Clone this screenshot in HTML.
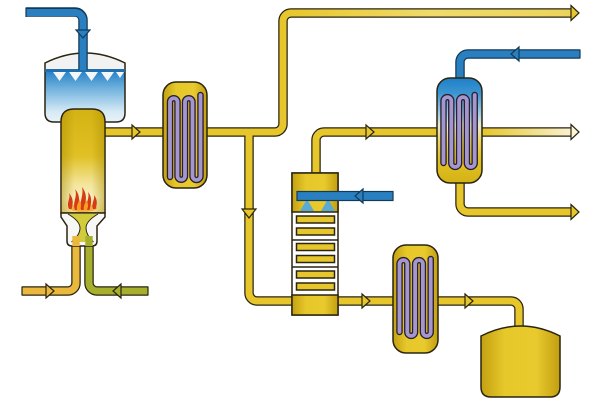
<!DOCTYPE html>
<html><head><meta charset="utf-8"><style>
html,body{margin:0;padding:0;background:#fff;}
svg{display:block;}
.po{fill:none;stroke:#2a2410;stroke-width:9.5;}
.pb{fill:none;stroke:#123a5a;stroke-width:9.5;}
.ol{stroke:#2a2410;stroke-width:1.5;}
.ar{stroke:#2a2410;stroke-width:1.2;stroke-linejoin:miter;}
</style></head><body>
<svg width="600" height="400" viewBox="0 0 600 400" xmlns="http://www.w3.org/2000/svg">
<defs>
  <linearGradient id="vy" x1="0" y1="0" x2="1" y2="0">
    <stop offset="0" stop-color="#c4a012"/><stop offset="0.3" stop-color="#e6c82a"/>
    <stop offset="0.7" stop-color="#e8ca2e"/><stop offset="1" stop-color="#c29e10"/>
  </linearGradient>
  <linearGradient id="edge" x1="0" y1="0" x2="1" y2="0">
    <stop offset="0" stop-color="#a88a00" stop-opacity="0.45"/><stop offset="0.3" stop-color="#a88a00" stop-opacity="0"/>
    <stop offset="0.7" stop-color="#a88a00" stop-opacity="0"/><stop offset="1" stop-color="#a88a00" stop-opacity="0.45"/>
  </linearGradient>
  <linearGradient id="quench" gradientUnits="userSpaceOnUse" x1="0" y1="53" x2="0" y2="122">
    <stop offset="0" stop-color="#f2f2f2"/><stop offset="0.246" stop-color="#f2f2f2"/>
    <stop offset="0.275" stop-color="#2a84ca"/><stop offset="0.55" stop-color="#7ab8e0"/>
    <stop offset="0.85" stop-color="#d6eaf5"/><stop offset="1" stop-color="#e8f3f8"/>
  </linearGradient>
  <linearGradient id="reac" gradientUnits="userSpaceOnUse" x1="0" y1="109" x2="0" y2="213">
    <stop offset="0" stop-color="#d4b214"/><stop offset="0.45" stop-color="#e0c024"/>
    <stop offset="0.72" stop-color="#f3e59a"/><stop offset="0.85" stop-color="#f8efbc"/>
    <stop offset="1" stop-color="#f2e296"/>
  </linearGradient>
  <linearGradient id="cond" gradientUnits="userSpaceOnUse" x1="0" y1="78" x2="0" y2="183">
    <stop offset="0" stop-color="#1f7fc6"/><stop offset="0.15" stop-color="#3d96d2"/>
    <stop offset="0.35" stop-color="#a8d0e6"/><stop offset="0.45" stop-color="#e8ecd0"/>
    <stop offset="0.6" stop-color="#ecd860"/><stop offset="0.75" stop-color="#e2c424"/>
    <stop offset="1" stop-color="#d4b216"/>
  </linearGradient>
  <linearGradient id="topp" gradientUnits="userSpaceOnUse" x1="280" y1="0" x2="580" y2="0">
    <stop offset="0" stop-color="#e6c62a"/><stop offset="0.5" stop-color="#f0da6a"/>
    <stop offset="1" stop-color="#ecd45a"/>
  </linearGradient>
  <linearGradient id="midp" gradientUnits="userSpaceOnUse" x1="482" y1="0" x2="580" y2="0">
    <stop offset="0" stop-color="#e6c62a"/><stop offset="1" stop-color="#fbf6e0"/>
  </linearGradient>
</defs>

<!-- pipe outlines (yellow) -->
<g class="po">
  <path d="M207,132 L275,132 A8,8 0 0 0 283,124 L283,21 A8,8 0 0 1 291,13 L572,13"/>
  <path d="M249,132 L249,293 A8,8 0 0 0 257,301 L292,301"/>
  <path d="M338,301 L393,301"/>
  <path d="M438,301 L511,301 A8,8 0 0 1 519,309 L519,327"/>
  <path d="M316,174 L316,140 A8,8 0 0 1 324,132 L437,132"/>
  <path d="M482,132 L572,132"/>
  <path d="M460,183 L460,204 A8,8 0 0 0 468,212 L572,212"/>
  <path d="M105,132 L163,132"/>
  <path d="M22,291 L68,291 A8,8 0 0 0 76,283 L76,240"/>
  <path d="M148,291 L97,291 A8,8 0 0 1 89,283 L89,240"/>
</g>
<g fill="none" stroke-width="7">
  <path stroke="url(#topp)" d="M207,132 L275,132 A8,8 0 0 0 283,124 L283,21 A8,8 0 0 1 291,13 L572,13"/>
  <path stroke="#e6c62a" d="M249,132 L249,293 A8,8 0 0 0 257,301 L292,301"/>
  <path stroke="#e6c62a" d="M338,301 L393,301"/>
  <path stroke="#e6c62a" d="M438,301 L511,301 A8,8 0 0 1 519,309 L519,327"/>
  <path stroke="#e6c62a" d="M316,174 L316,140 A8,8 0 0 1 324,132 L437,132"/>
  <path stroke="url(#midp)" d="M482,132 L572,132"/>
  <path stroke="#e6c62a" d="M460,183 L460,204 A8,8 0 0 0 468,212 L572,212"/>
  <path stroke="#e6c62a" d="M105,132 L163,132"/>
  <path stroke="#eab83c" d="M22,291 L68,291 A8,8 0 0 0 76,283 L76,240"/>
  <path stroke="#a6b02c" d="M148,291 L97,291 A8,8 0 0 1 89,283 L89,240"/>
</g>

<!-- blue condenser top pipe -->
<path class="pb" d="M460,80 L460,62 A8,8 0 0 1 468,54 L580,54"/>
<path fill="none" stroke="#2a7fc1" stroke-width="7" d="M460,80 L460,62 A8,8 0 0 1 468,54 L580,54"/>

<!-- quench vessel -->
<path class="ol" fill="url(#quench)" d="M45,63 Q85,43 125,63 L125,113 Q125,122 116,122 L54,122 Q45,122 45,113 Z"/>
<line x1="45" y1="70.5" x2="125" y2="70.5" stroke="#1f6fb0" stroke-width="3"/>
<g fill="#f4f6f8">
  <polygon points="53,72 66,72 59.5,81"/>
  <polygon points="69,72 82,72 75.5,81"/>
  <polygon points="85,72 98,72 91.5,81"/>
  <polygon points="101,72 114,72 107.5,81"/>
  <polygon points="116,72 124,72 120,78"/>
</g>
<!-- blue inlet top-left -->
<path class="pb" d="M26,12 L75,12 A8,8 0 0 1 83,20 L83,70"/>
<path fill="none" stroke="#2a7fc1" stroke-width="7" d="M26,12.5 L75,12.5 A8,8 0 0 1 83,20 L83,70"/>
<line x1="26" y1="7.5" x2="26" y2="17" stroke="#123a5a" stroke-width="1.2"/>

<!-- reactor column -->
<path class="ol" fill="url(#reac)" d="M61,213 L61,122 Q61,109 74,109 L92,109 Q105,109 105,122 L105,213 Z"/>
<path fill="url(#edge)" d="M61.8,212 L61.8,122 Q61.8,110 74,110 L92,110 Q104.2,110 104.2,122 L104.2,212 Z"/>
<!-- flames -->
<ellipse cx="83" cy="208" rx="14" ry="4" fill="#f2a634" opacity="0.85"/>
<g fill="#d63a16">
  <path d="M69,209 C66,202 71,199 69,193 C74,199 73,204 71.5,209 Z"/>
  <path d="M75,210 C72,202 78,197 75,189 C81,196 79,203 77.5,210 Z"/>
  <path d="M81,210 C79,201 84,196 82,187 C88,195 86,202 83.5,210 Z"/>
  <path d="M87,210 C85,203 90,199 88,192 C93,198 91,204 89.5,210 Z"/>
  <path d="M93,209 C91,203 95,200 94,195 C98,200 97,205 95.5,209 Z"/>
</g>
<g fill="#f5a020">
  <path d="M77,210 C76,205 79,203 79,199 C82,204 81,207 80,210 Z"/>
  <path d="M84,210 C83,205 86,203 86,200 C89,204 88,207 87,210 Z"/>
</g>
<!-- burner funnel -->
<path class="ol" fill="#f7f7f5" d="M61,213 L105,213 L105,217 L97,226 L97,241 Q97,246 92,246 L72,246 Q67,246 67,241 L67,226 L61,217 Z"/>
<path fill="#d2cc3c" d="M68,213.8 L98,213.8 Q86,221 86,228 Q86,235 93.5,242 L71.5,242 Q80,235 80,228 Q80,221 68,213.8 Z"/>
<path fill="none" stroke="#2a2410" stroke-width="1" d="M68,214 Q80,221 80,228 Q80,235 71.5,242 M98,214 Q86,221 86,228 Q86,235 93.5,242"/>
<rect x="72.3" y="236" width="7.4" height="10" fill="#eab83c"/>
<rect x="85.3" y="236" width="7.4" height="10" fill="#a6b02c"/>

<!-- HX1 -->
<rect class="ol" x="163" y="82" width="44" height="106" rx="13" ry="13" fill="url(#vy)"/>
<path fill="none" stroke="#2a2030" stroke-width="6.5" stroke-linecap="round" d="M170,177 L170,102 A3.75,3.75 0 0 1 177.5,102 L177.5,176 A3.75,3.75 0 0 0 185,176 L185,102 A3.75,3.75 0 0 1 192.5,102 L192.5,176 A4,4 0 0 0 200.5,176 L200.5,95"/>
<path fill="none" stroke="#a497d0" stroke-width="3.8" stroke-linecap="round" d="M170,177 L170,102 A3.75,3.75 0 0 1 177.5,102 L177.5,176 A3.75,3.75 0 0 0 185,176 L185,102 A3.75,3.75 0 0 1 192.5,102 L192.5,176 A4,4 0 0 0 200.5,176 L200.5,95"/>

<!-- Condenser -->
<rect class="ol" x="437" y="78" width="45" height="105" rx="13" ry="13" fill="url(#cond)"/>
<path fill="none" stroke="#2a2030" stroke-width="6.5" stroke-linecap="round" d="M443.5,163 L443.5,101 A3.9,3.9 0 0 1 451.3,101 L451.3,163 A3.9,3.9 0 0 0 459.1,163 L459.1,101 A3.9,3.9 0 0 1 466.9,101 L466.9,163 A3.9,3.9 0 0 0 474.7,163 L474.7,95"/>
<path fill="none" stroke="#a497d0" stroke-width="3.8" stroke-linecap="round" d="M443.5,163 L443.5,101 A3.9,3.9 0 0 1 451.3,101 L451.3,163 A3.9,3.9 0 0 0 459.1,163 L459.1,101 A3.9,3.9 0 0 1 466.9,101 L466.9,163 A3.9,3.9 0 0 0 474.7,163 L474.7,95"/>

<!-- HX3 -->
<rect class="ol" x="393" y="245" width="45" height="108" rx="13" ry="13" fill="url(#vy)"/>
<path fill="none" stroke="#2a2030" stroke-width="6.5" stroke-linecap="round" d="M399.5,332 L399.5,264 A3.9,3.9 0 0 1 407.3,264 L407.3,332 A3.9,3.9 0 0 0 415.1,332 L415.1,264 A3.9,3.9 0 0 1 422.9,264 L422.9,332 A3.9,3.9 0 0 0 430.7,332 L430.7,259"/>
<path fill="none" stroke="#a497d0" stroke-width="3.8" stroke-linecap="round" d="M399.5,332 L399.5,264 A3.9,3.9 0 0 1 407.3,264 L407.3,332 A3.9,3.9 0 0 0 415.1,332 L415.1,264 A3.9,3.9 0 0 1 422.9,264 L422.9,332 A3.9,3.9 0 0 0 430.7,332 L430.7,259"/>

<!-- Tank -->
<path class="ol" fill="url(#vy)" d="M481,336 Q520.5,316 560,336 L560,387 Q560,397 550,397 L491,397 Q481,397 481,387 Z"/>

<!-- Distillation column -->
<rect class="ol" x="292" y="173" width="46" height="142" fill="#ffffff"/>
<rect class="ol" x="292" y="173" width="46" height="39" fill="url(#vy)"/>
<rect class="ol" x="292" y="295" width="46" height="20" fill="url(#vy)"/>
<line class="ol" x1="292" y1="240" x2="338" y2="240"/>
<line class="ol" x1="292" y1="267" x2="338" y2="267"/>
<g class="ol" fill="#e6c62a">
  <rect x="296.5" y="216" width="38" height="7"/>
  <rect x="296.5" y="228" width="38" height="7"/>
  <rect x="296.5" y="243.5" width="38" height="7"/>
  <rect x="296.5" y="255.5" width="38" height="7"/>
  <rect x="296.5" y="271" width="38" height="7"/>
  <rect x="296.5" y="283" width="38" height="7"/>
</g>
<!-- spray cones -->
<polygon points="307,199 300,211 314,211" fill="#5aaad6"/>
<polygon points="328,199 321,211 335,211" fill="#5aaad6"/>
<!-- blue column inlet -->
<rect x="297" y="191.5" width="96" height="9" fill="#2a7fc1" stroke="#123a5a" stroke-width="1.2"/>

<!-- arrowheads -->
<g class="ar" fill="#e6c62a">
  <polygon points="132,125 140,132 132,139"/>
  <polygon points="242,209 256,209 249,218"/>
  <polygon points="362,294 370,301 362,308"/>
  <polygon points="465,294 473,301 465,308"/>
  <polygon points="366,125 374,132 366,139"/>
  <polygon points="571,5.5 579,13 571,20.5"/>
  <polygon points="571,124.5 579,132 571,139.5" fill="#faf4d8"/>
  <polygon points="571,204.5 579,212 571,219.5"/>
  <polygon points="46,284 54,291 46,298" fill="#eab83c"/>
  <polygon points="121,284 113,291 121,298" fill="#a6b02c"/>
</g>
<g stroke="#123a5a" stroke-width="1.2" fill="#2a7fc1">
  <polygon points="76,30 90,30 83,38"/>
  <polygon points="519,47 511,54 519,61"/>
  <polygon points="363,189 355,196 363,203"/>
</g>
<line x1="580" y1="49.5" x2="580" y2="58.5" stroke="#123a5a" stroke-width="1.2"/>
<line x1="22" y1="286.5" x2="22" y2="295.5" stroke="#2a2410" stroke-width="1.2"/>
<line x1="148" y1="286.5" x2="148" y2="295.5" stroke="#2a2410" stroke-width="1.2"/>
</svg>
</body></html>
